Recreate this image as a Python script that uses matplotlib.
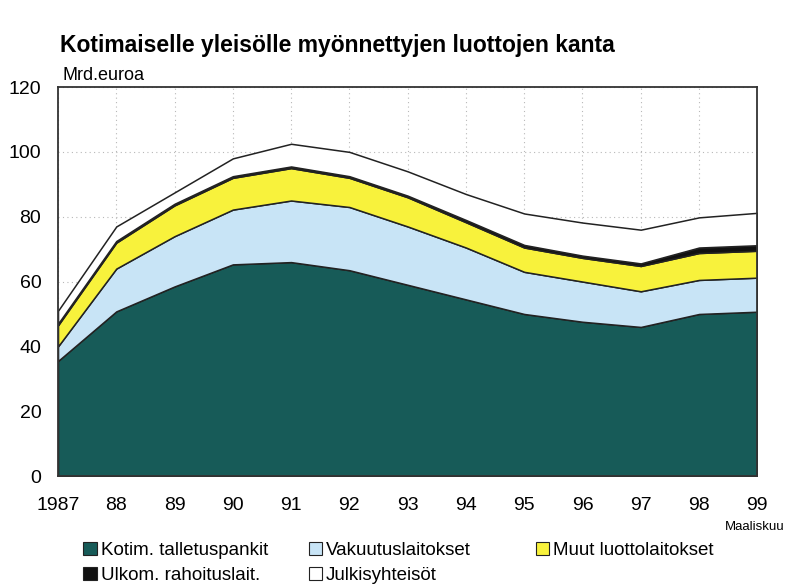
import numpy as np
import matplotlib.pyplot as plt
from matplotlib.patches import Patch

plt.rcParams['font.family'] = ['Liberation Sans', 'DejaVu Sans']

# ----------------------------------------------------------------------------------------------------------------------
# data (Mrd. euroa)
# ----------------------------------------------------------------------------------------------------------------------

years = [1987, 1988, 1989, 1990, 1991, 1992, 1993, 1994, 1995, 1996, 1997, 1998, 1999]
year_labels = ["1987", "88", "89", "90", "91", "92", "93", "94", "95", "96", "97", "98", "99"]

talletuspankit = [35.5, 50.8, 58.5, 65.3, 66.0, 63.5, 59.0, 54.5, 50.0, 47.6, 46.0, 50.0, 50.7]
vakuutus = [4.5, 13.2, 15.5, 16.9, 19.0, 19.5, 18.0, 16.0, 13.0, 12.4, 11.0, 10.5, 10.5]
muut = [6.5, 8.0, 9.5, 9.8, 10.0, 9.0, 9.0, 7.8, 7.5, 7.3, 7.8, 8.3, 8.3]
ulkom = [0.5, 0.5, 0.5, 0.5, 0.5, 0.5, 0.5, 0.7, 0.8, 0.7, 0.8, 1.7, 1.7]
julkis = [4.0, 4.5, 3.5, 5.5, 7.0, 7.5, 7.5, 8.0, 9.7, 10.2, 10.4, 9.3, 10.0]

labels = ["Kotim. talletuspankit", "Vakuutuslaitokset", "Muut luottolaitokset",
          "Ulkom. rahoituslait.", "Julkisyhteisöt"]
colors = ["#175b58", "#c8e4f6", "#f8f23c", "#111111", "#ffffff"]

# ----------------------------------------------------------------------------------------------------------------------
# plot
# ----------------------------------------------------------------------------------------------------------------------

fig = plt.figure(figsize=(7.87, 5.87), dpi=100)
ax = fig.add_axes([0.0737, 0.189, 0.8886, 0.6627])

ax.stackplot(years, talletuspankit, vakuutus, muut, ulkom, julkis,
             colors=colors, edgecolor="#222222", linewidth=1.1, zorder=2)

ax.set_xlim(years[0], years[-1])
ax.set_ylim(0, 120)
ax.set_yticks(np.arange(0, 121, 20))
ax.set_xticks(years)
ax.set_xticklabels(year_labels)
ax.tick_params(axis="both", length=0, labelsize=14)
ax.tick_params(axis="x", pad=15)
ax.tick_params(axis="y", pad=12)

ax.grid(True, color="#b8b8b8", linestyle=(0, (1, 3)), linewidth=0.8, zorder=0)
ax.set_axisbelow(True)
for s in ax.spines.values():
    s.set_linewidth(1.3)
    s.set_color("#333333")
    s.set_zorder(3)

fig.text(0.076, 0.923, "Kotimaiselle yleisölle myönnettyjen luottojen kanta",
         fontsize=16.5, fontweight="bold", va="center", ha="left")
fig.text(0.079, 0.872, "Mrd.euroa", fontsize=13, va="center", ha="left")
fig.text(0.997, 0.103, "Maaliskuu", fontsize=9.5, va="center", ha="right")

handles = [Patch(facecolor=c, edgecolor="#222222", linewidth=0.8) for c in colors]
cols = [([0, 3], 0.106), ([1, 4], 0.392), ([2], 0.681)]
for idx, x0 in cols:
    leg = fig.legend([handles[i] for i in idx], [labels[i] for i in idx],
                     loc="upper left", bbox_to_anchor=(x0, 0.077), frameon=False,
                     fontsize=13.5, handlelength=0.72, handleheight=0.72,
                     handletextpad=0.2, labelspacing=0.4, borderpad=0, borderaxespad=0)

fig.savefig("out.png", dpi=100)
